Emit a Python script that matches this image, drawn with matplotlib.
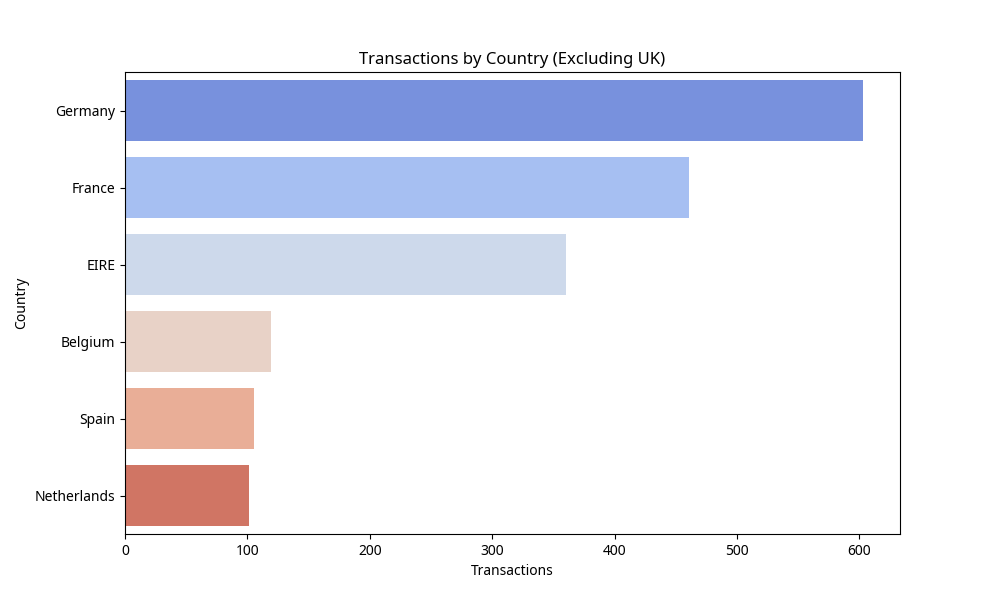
import matplotlib
matplotlib.use("Agg")
import matplotlib.pyplot as plt
import seaborn as sns
import pandas as pd

countries = ["Germany", "France", "EIRE", "Belgium", "Spain", "Netherlands"]
transactions = [603, 461, 360, 119, 105, 101]

plt.rcParams['font.family'] = ['Noto Sans', 'DejaVu Sans']

df = pd.DataFrame({"Country": countries, "Transactions": transactions})

fig, ax = plt.subplots(figsize=(10, 6), dpi=100)
sns.barplot(data=df, x="Transactions", y="Country", hue="Country",
            palette="coolwarm", legend=False, ax=ax)
ax.set_title("Transactions by Country (Excluding UK)")
ax.set_xlabel("Transactions")
ax.set_ylabel("Country")
fig.savefig("out.png", dpi=100)
